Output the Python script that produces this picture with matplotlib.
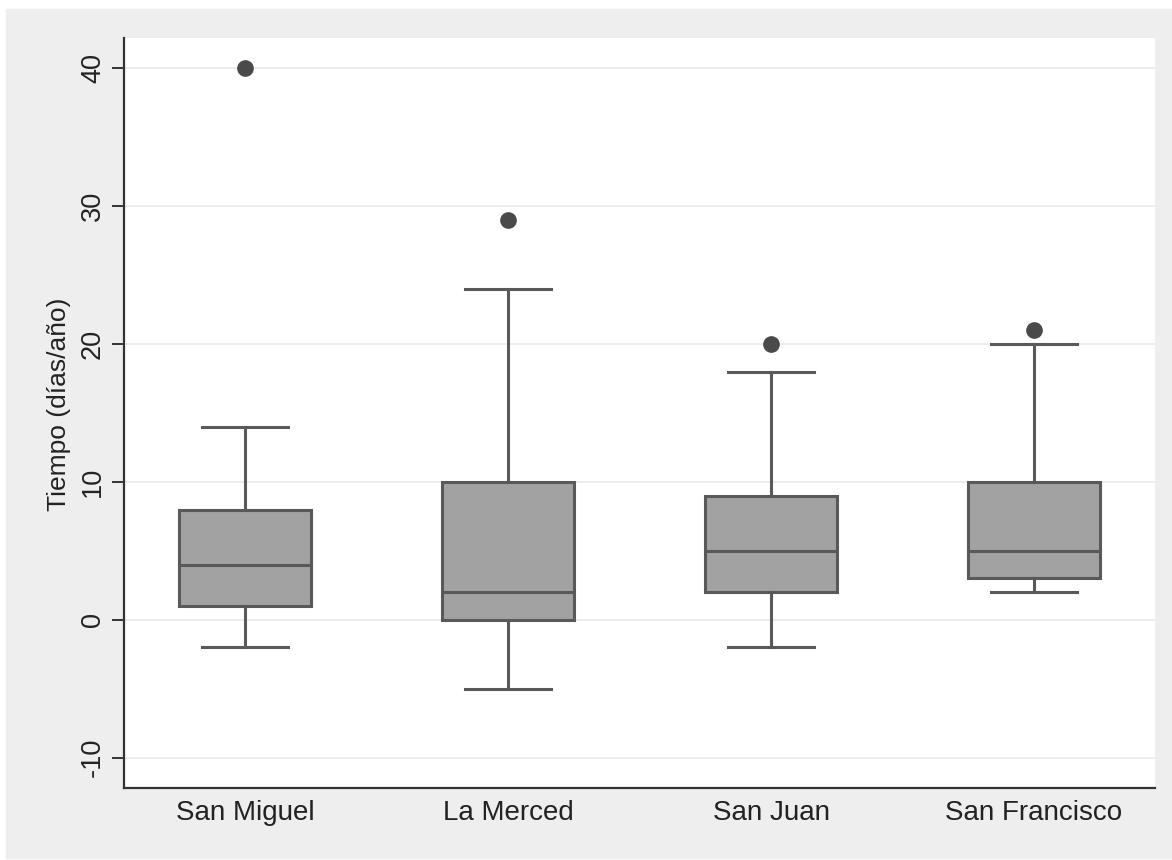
import matplotlib
matplotlib.use("Agg")
import matplotlib.pyplot as plt
from matplotlib.patches import Rectangle

# data (dias/año)
barrios = ["San Miguel", "La Merced", "San Juan", "San Francisco"]
whis_lo = [-2, -5, -2, 2]
q1 = [1, 0, 2, 3]
medianas = [4, 2, 5, 5]
q3 = [8, 10, 9, 10]
whis_hi = [14, 24, 18, 20]
atipicos = [[40], [29], [20], [21]]

plt.rcParams['font.family'] = ['Liberation Sans', 'DejaVu Sans']
plt.rcParams['axes.unicode_minus'] = False

fig = plt.figure(figsize=(11.72, 8.6), dpi=100, facecolor="white")
fig.patches.append(Rectangle((6/1172, 2/860), 1 - 6/1172, 1 - 11/860,
                             transform=fig.transFigure, color="#eeeeee", zorder=-10))

ax = fig.add_axes([124/1172, 1 - 788/860, (1155 - 124)/1172, (788 - 38)/860])
ax.set_zorder(1)
ax.set_facecolor("white")

stats = []
for i in range(len(barrios)):
    stats.append({"label": barrios[i], "whislo": whis_lo[i], "q1": q1[i],
                  "med": medianas[i], "q3": q3[i], "whishi": whis_hi[i],
                  "fliers": atipicos[i]})

edge = "#595959"
ax.bxp(stats, positions=[1, 2, 3, 4], widths=0.505, capwidths=0.33,
       patch_artist=True, showfliers=True,
       boxprops=dict(facecolor="#a2a2a2", edgecolor=edge, linewidth=2.2),
       medianprops=dict(color=edge, linewidth=2.2),
       whiskerprops=dict(color=edge, linewidth=2.2),
       capprops=dict(color=edge, linewidth=2.2),
       flierprops=dict(marker="o", markersize=11, markerfacecolor="#4a4a4a",
                       markeredgecolor="#4a4a4a"))

ax.set_xlim(0.54, 4.46)
ax.set_ylim(-12.2, 42.2)
ax.set_yticks([-10, 0, 10, 20, 30, 40])
ax.yaxis.grid(True, color="#ececec", linewidth=1.3)
ax.set_axisbelow(True)

for s in ["top", "right"]:
    ax.spines[s].set_visible(False)
for s in ["left", "bottom"]:
    ax.spines[s].set_color("#333333")
    ax.spines[s].set_linewidth(1.6)

ax.tick_params(axis="x", length=0, labelsize=20, pad=9, colors="#222222")
ax.tick_params(axis="y", length=9, width=1.4, color="#333333",
               labelsize=19.5, labelrotation=90, pad=4, labelcolor="#222222")
for lab in ax.get_yticklabels():
    lab.set_verticalalignment("center")

ax.set_ylabel("Tiempo (días/año)", fontsize=19, color="#222222")
ax.yaxis.set_label_coords(-0.051, 0.512)

fig.savefig("out.png", dpi=100, facecolor=fig.get_facecolor())
